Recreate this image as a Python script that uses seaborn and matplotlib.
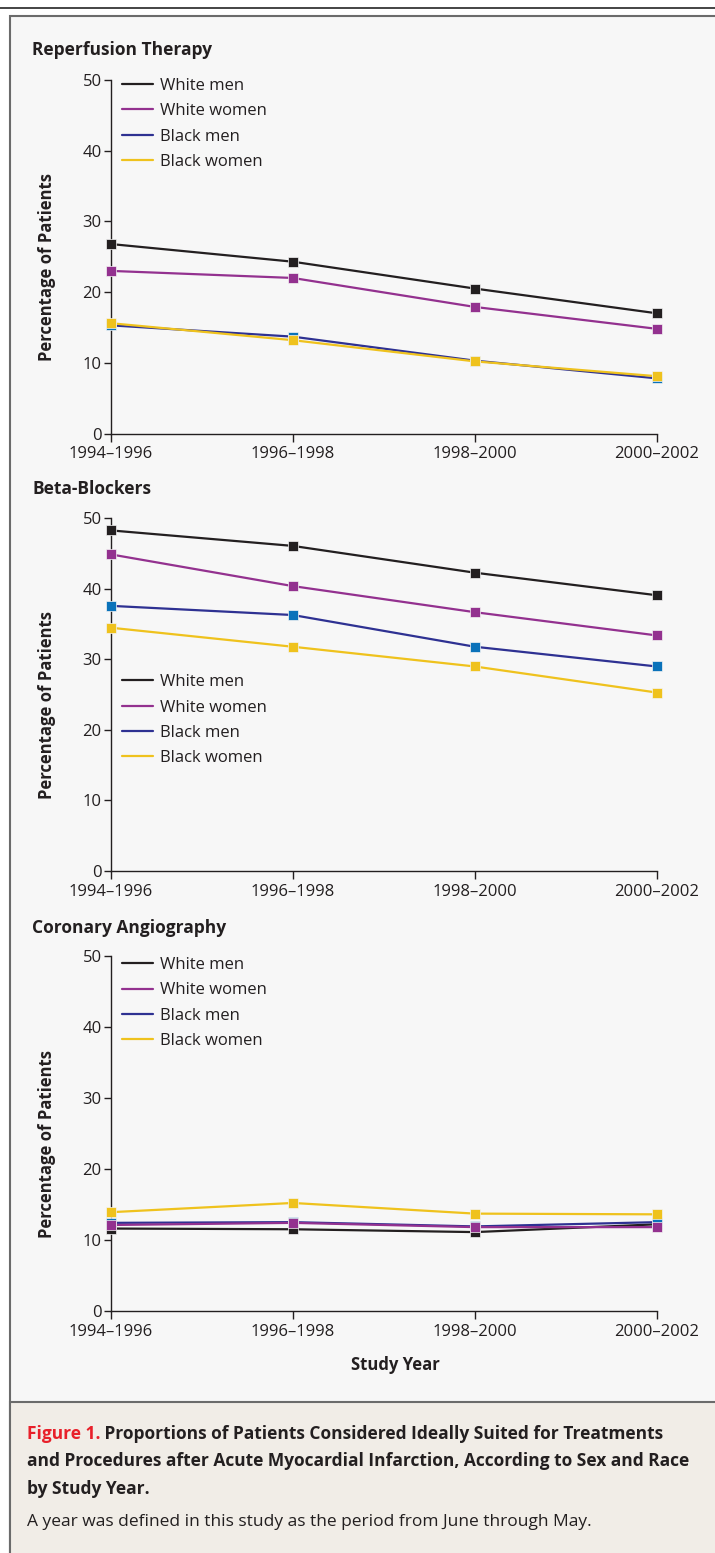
import matplotlib
matplotlib.use("Agg")
import matplotlib.pyplot as plt
from matplotlib.lines import Line2D
from matplotlib.patches import Rectangle
import pandas as pd
import seaborn as sns

# ---- data -------------------------------------------------------------
periods = ["1994–1996", "1996–1998", "1998–2000", "2000–2002"]
groups = ["White men", "White women", "Black men", "Black women"]
y_ticks = [0, 10, 20, 30, 40, 50]

reperfusion_white_men = [26.8, 24.3, 20.5, 17.0]
reperfusion_white_women = [23.0, 22.0, 17.9, 14.8]
reperfusion_black_men = [15.3, 13.7, 10.3, 7.8]
reperfusion_black_women = [15.6, 13.2, 10.2, 8.1]

beta_white_men = [48.3, 46.1, 42.3, 39.1]
beta_white_women = [44.9, 40.4, 36.7, 33.4]
beta_black_men = [37.6, 36.3, 31.8, 29.0]
beta_black_women = [34.5, 31.8, 29.0, 25.3]

angio_white_men = [11.6, 11.5, 11.1, 12.2]
angio_white_women = [12.1, 12.4, 11.8, 11.8]
angio_black_men = [12.4, 12.5, 11.9, 12.5]
angio_black_women = [13.9, 15.2, 13.7, 13.6]

panel_titles = ["Reperfusion Therapy", "Beta-Blockers", "Coronary Angiography"]

# ---- styling ----------------------------------------------------------
W, H = 715, 1553
INK = "#231f20"
line_colors = {"White men": "#231f20", "White women": "#93318f",
               "Black men": "#2e3192", "Black women": "#efc21d"}
marker_colors = {"White men": "#231f20", "White women": "#93318f",
                 "Black men": "#0a72ba", "Black women": "#efc21d"}

sns.set_theme(style="white")
FONT = ["Open Sans", "DejaVu Sans"]
plt.rcParams["font.family"] = FONT
plt.rcParams["text.color"] = INK


def fx(px):
    return px / W


def fy(py):
    return 1 - py / H


fig = plt.figure(figsize=(W / 100, H / 100), dpi=100, facecolor="white")

# page furniture: rule, plot box, caption box
fig.add_artist(Line2D([0, 1], [fy(7.5), fy(7.5)], transform=fig.transFigure,
                      color="#111111", lw=1.1, zorder=-20))
fig.add_artist(Rectangle((fx(10), fy(1570)), fx(730) - fx(10), fy(16) - fy(1570),
                         transform=fig.transFigure, facecolor="#f7f7f7",
                         edgecolor="#6b6b6b", lw=1.5, zorder=-20))
fig.add_artist(Rectangle((fx(10), fy(1570)), fx(730) - fx(10), fy(1402) - fy(1570),
                         transform=fig.transFigure, facecolor="#f1ede7",
                         edgecolor="#6b6b6b", lw=1.5, zorder=-19))

panels = [
    dict(title=panel_titles[0], top=80.0, bottom=433.5, title_base=55,
         legend_y=1.006,
         values=[reperfusion_white_men, reperfusion_white_women,
                 reperfusion_black_men, reperfusion_black_women],
         order=["White men", "White women", "Black men", "Black women"]),
    dict(title=panel_titles[1], top=518.4, bottom=871.0, title_base=494,
         legend_y=0.558,
         values=[beta_white_men, beta_white_women, beta_black_men, beta_black_women],
         order=["White men", "White women", "Black men", "Black women"]),
    dict(title=panel_titles[2], top=955.6, bottom=1311.0, title_base=933,
         legend_y=0.996,
         values=[angio_white_men, angio_white_women, angio_black_men, angio_black_women],
         order=["White men", "Black men", "White women", "Black women"]),
]

X_LEFT, X_RIGHT = 110.7, 657.0
TICK_FS = 12
legend_handles = [Line2D([], [], color=line_colors[g], lw=1.6) for g in groups]

for p in panels:
    ax = fig.add_axes([fx(X_LEFT), fy(p["bottom"]), fx(X_RIGHT) - fx(X_LEFT),
                       fy(p["top"]) - fy(p["bottom"])])
    ax.set_facecolor("none")

    rows = []
    for g, vals in zip(groups, p["values"]):
        for per, v in zip(periods, vals):
            rows.append({"group": g, "period": per, "pct": v})
    df = pd.DataFrame(rows)
    df["group"] = pd.Categorical(df["group"], categories=p["order"], ordered=True)
    df = df.sort_values(["group"], kind="stable").reset_index(drop=True)
    df["group"] = df["group"].astype(str)

    sns.lineplot(data=df, x="period", y="pct", hue="group", hue_order=p["order"],
                 palette=line_colors, lw=1.6, legend=False, sort=False,
                 errorbar=None, ax=ax)
    sns.scatterplot(data=df, x="period", y="pct", hue="group", hue_order=p["order"],
                    palette=marker_colors, marker="s", s=52,
                    edgecolor="#f4f4f4", linewidth=0.5, legend=False,
                    ax=ax, zorder=4, clip_on=False)

    ax.set_xlim(0, 3)
    ax.set_ylim(0, 50)
    ax.set_yticks(y_ticks)
    ax.set_xticks(range(len(periods)))
    ax.set_xticklabels(periods)
    ax.set_xlabel("")
    ax.set_ylabel("Percentage of Patients", fontsize=12, fontweight="bold",
                  color=INK)
    ax.yaxis.set_label_coords(-0.100, 0.47)

    for side in ("top", "right"):
        ax.spines[side].set_visible(False)
    for side in ("left", "bottom"):
        ax.spines[side].set_color(INK)
        ax.spines[side].set_linewidth(1.0)
    ax.tick_params(axis="y", direction="out", length=5, width=1.0, color=INK,
                   labelsize=TICK_FS, labelcolor=INK, pad=1.5, left=True)
    ax.tick_params(axis="x", direction="out", length=6, width=1.0, color=INK,
                   labelsize=TICK_FS, labelcolor=INK, pad=3, bottom=True)

    ax.legend(legend_handles, groups, loc="upper left",
              bbox_to_anchor=(0.021, p["legend_y"]), frameon=False,
              fontsize=12, handlelength=1.85, handletextpad=0.42,
              labelspacing=0.56, borderpad=0, borderaxespad=0,
              labelcolor=INK)

    fig.text(fx(32), fy(p["title_base"]), p["title"], fontsize=12.5,
             fontweight="bold", ha="left", va="baseline", color=INK)

fig.text(fx(395), fy(1370), "Study Year", fontsize=12, fontweight="bold",
         ha="center", va="baseline", color=INK)

# caption
CAP_FS = 12.5
t_red = fig.text(fx(27), fy(1439), "Figure 1.", fontsize=CAP_FS,
                 fontweight="bold", color="#e8202a", ha="left", va="baseline")
plt.annotate(" Proportions of Patients Considered Ideally Suited for Treatments",
             xy=(1, 0), xycoords=t_red, va="bottom", ha="left",
             fontsize=CAP_FS, fontweight="bold", color=INK,
             annotation_clip=False)
fig.text(fx(27), fy(1466.5),
         "and Procedures after Acute Myocardial Infarction, According to Sex and Race",
         fontsize=CAP_FS, fontweight="bold", ha="left", va="baseline", color=INK)
fig.text(fx(27), fy(1493.5), "by Study Year.", fontsize=CAP_FS,
         fontweight="bold", ha="left", va="baseline", color=INK)
fig.text(fx(27), fy(1526), "A year was defined in this study as the period from June through May.",
         fontsize=CAP_FS, ha="left", va="baseline", color=INK)

fig.savefig("out.png", dpi=100, facecolor="white")
